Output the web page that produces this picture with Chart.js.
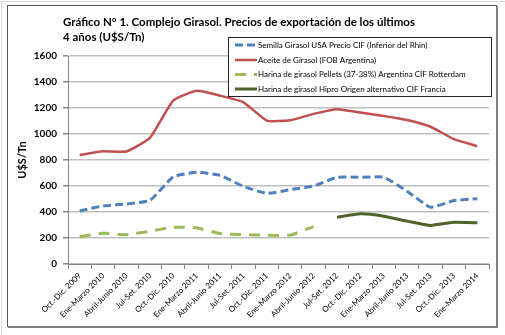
<!DOCTYPE html>
<html>
<head>
<meta charset="utf-8">
<script src="https://cdn.jsdelivr.net/npm/chart.js@4/dist/chart.umd.min.js"></script>
<style>
  html, body { margin: 0; padding: 0; background: #fff; }
  #wrap { width: 505px; height: 335px; }
</style>
</head>
<body>
<div id="wrap"><canvas id="girasol" width="505" height="335"></canvas></div>
<script>
var periodos = ['Oct.-Dic. 2009', 'Ene-Marzo 2010', 'Abril-Junio 2010', 'Jul-Set. 2010',
  'Oct.-Dic. 2010', 'Ene-Marzo 2011', 'Abril-Junio 2011', 'Jul-Set. 2011',
  'Oct.-Dic. 2011', 'Ene-Marzo 2012', 'Abril-Junio 2012', 'Jul-Set. 2012',
  'Oct.-Dic. 2012', 'Ene-Marzo 2013', 'Abril-Junio 2013', 'Jul-Set. 2013',
  'Oct.-Dic. 2013', 'Ene-Marzo 2014'];

var semilla = [408, 447, 462, 489, 670, 705, 682, 597, 543, 572, 600, 667, 667, 667, 560, 437, 488, 502];
var aceite = [838, 867, 865, 970, 1257, 1332, 1295, 1244, 1103, 1105, 1155, 1191, 1165, 1139, 1108, 1056, 961, 907];
var pellets = [210, 236, 226, 252, 283, 278, 234, 226, 222, 222, 288, null, null, null, null, null, null, null];
var hipro = [null, null, null, null, null, null, null, null, null, null, null, 360, 386, 368, 330, 297, 321, 317];

var yTicks = { min: 0, max: 1600, step: 200 };

var titulo = ['Gráfico N° 1. Complejo Girasol. Precios de exportación de los últimos', '4 años (U$S/Tn)'];

// marco exterior y título
var marco = {
  id: 'marco',
  beforeDraw: function (chart) {
    var c = chart.ctx;
    c.save();
    c.fillStyle = '#fff';
    c.fillRect(0, 0, chart.width, chart.height);
    c.strokeStyle = '#d9d9d9';
    c.lineWidth = 1;
    c.beginPath();
    c.moveTo(1.5, chart.height); c.lineTo(1.5, 1.5); c.lineTo(chart.width, 1.5);
    c.stroke();
    c.strokeStyle = '#595959';
    c.strokeRect(7.5, 5.5, 489, 321);
    c.strokeStyle = '#7f7f7f';
    c.lineWidth = 2;
    c.beginPath();
    c.moveTo(497, 6); c.lineTo(497, 327); c.lineTo(8, 327);
    c.stroke();
    c.fillStyle = '#000';
    c.font = 'bold 11.5px Lato';
    c.textBaseline = 'middle';
    c.fillText(titulo[0], 63, 22);
    c.fillText(titulo[1], 63, 37);
    c.restore();
  }
};

// leyenda en recuadro sobre el área de trazado
var leyenda = {
  id: 'leyenda',
  afterDatasetsDraw: function (chart) {
    var c = chart.ctx;
    c.save();
    c.fillStyle = '#fff';
    c.fillRect(228.5, 37.5, 263, 59);
    c.strokeStyle = '#262626';
    c.lineWidth = 1;
    c.strokeRect(228.5, 37.5, 263, 59);
    var filas = [45, 60, 74.5, 89];
    chart.data.datasets.forEach(function (ds, i) {
      c.strokeStyle = ds.borderColor;
      c.lineWidth = ds.borderWidth;
      c.setLineDash(ds.borderDash || []);
      c.beginPath();
      c.moveTo(235, filas[i]);
      c.lineTo(257, filas[i]);
      c.stroke();
      c.setLineDash([]);
      c.fillStyle = '#000';
      c.font = '8px Lato';
      c.textBaseline = 'middle';
      c.fillText(ds.label, 258, filas[i]);
    });
    c.restore();
  }
};

var ctx = document.getElementById('girasol').getContext('2d');
var grafico = new Chart(ctx, {
  type: 'line',
  data: {
    labels: periodos,
    datasets: [{
      label: 'Semilla Girasol USA Precio CIF (Inferior del Rhin)',
      data: semilla,
      borderColor: '#4f81bd',
      borderWidth: 3,
      borderDash: [8, 4]
    }, {
      label: 'Aceite de Girasol (FOB Argentina)',
      data: aceite,
      borderColor: '#c0504d',
      borderWidth: 2.5
    }, {
      label: 'Harina de girasol Pellets (37-38%) Argentina CIF Rotterdam',
      data: pellets,
      borderColor: '#9bbb59',
      borderWidth: 3,
      borderDash: [11, 8]
    }, {
      label: 'Harina de girasol Hipro Origen alternativo CIF Francia',
      data: hipro,
      borderColor: '#4f6228',
      borderWidth: 3
    }]
  },
  options: {
    responsive: false,
    animation: false,
    devicePixelRatio: 1,
    spanGaps: false,
    elements: {
      point: { radius: 0, hoverRadius: 0 },
      line: { tension: 0.15, fill: false, borderCapStyle: 'butt' }
    },
    layout: { padding: { left: 10, top: 56, right: 16, bottom: 0 } },
    plugins: {
      legend: { display: false },
      tooltip: { enabled: false },
      title: { display: false }
    },
    scales: {
      x: {
        type: 'category',
        offset: true,
        afterFit: function (s) { s.height = 71; },
        grid: {
          offset: true,
          drawOnChartArea: false,
          drawTicks: true,
          tickLength: 5,
          tickColor: '#868686'
        },
        border: { color: '#868686', width: 1 },
        ticks: {
          autoSkip: false,
          minRotation: 45,
          maxRotation: 45,
          padding: 2,
          color: '#000',
          font: { family: 'Lato', size: 8 }
        }
      },
      y: {
        min: yTicks.min,
        max: yTicks.max,
        afterFit: function (s) { s.width = 58; },
        grid: {
          color: '#bfbfbf',
          lineWidth: 1.5,
          tickLength: 5,
          tickColor: '#868686'
        },
        border: { color: '#868686', width: 1 },
        ticks: {
          stepSize: yTicks.step,
          padding: 6,
          color: '#000',
          font: { family: 'Lato', size: 10, weight: 'bold' },
          callback: function (v) { return String(v); }
        },
        title: {
          display: true,
          text: 'U$S/Tn',
          color: '#000',
          padding: { top: 6, bottom: 0 },
          font: { family: 'Lato', size: 11, weight: 'bold' }
        }
      }
    }
  },
  plugins: [marco, leyenda]
});
</script>
</body>
</html>
